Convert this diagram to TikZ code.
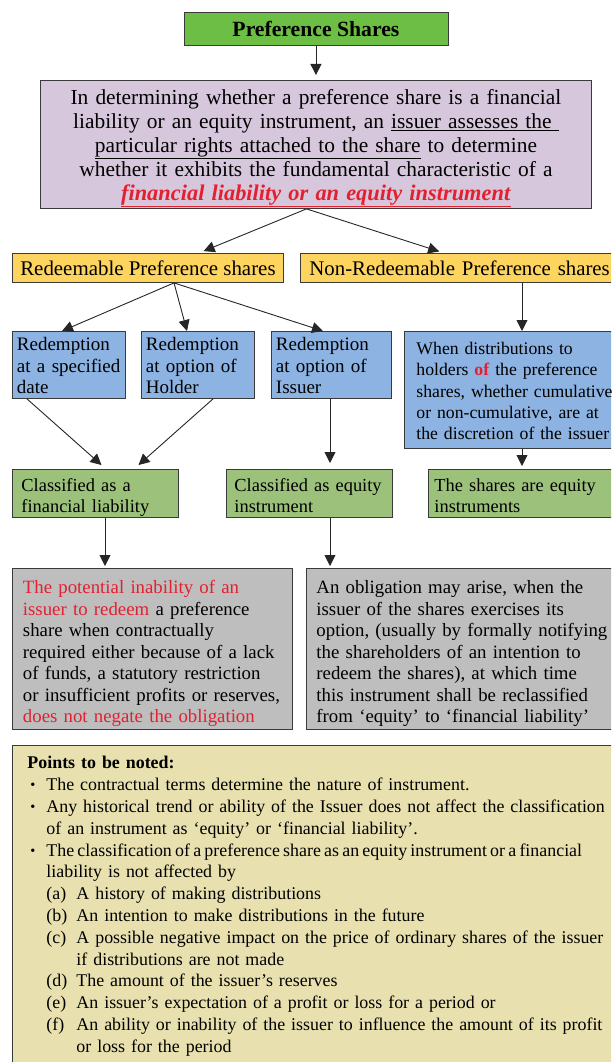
\documentclass[tikz,border=0pt]{standalone}
\usepackage{fontspec}
\setmainfont{Liberation Serif}
\usepackage{enumitem}
\usetikzlibrary{arrows.meta}
\definecolor{titlegreen}{HTML}{6DBE45}
\definecolor{qpurple}{HTML}{D7C7DC}
\definecolor{shyellow}{HTML}{FDD45E}
\definecolor{optblue}{HTML}{8DB3E2}
\definecolor{clgreen}{HTML}{9CC17B}
\definecolor{ngray}{HTML}{BEBEBE}
\definecolor{notekhaki}{HTML}{E8E0AE}
\definecolor{pred}{HTML}{E3202F}
\definecolor{edge}{HTML}{3A3A3A}
\newcommand{\boxlines}[2][0pt]{\raisebox{-#1}[\height][\depth]{\begin{tabular}{@{}l@{}}#2\end{tabular}}}
\begin{document}
\begin{tikzpicture}[x=1pt,y=-1pt,
	box/.style={draw=edge, line width=0.9pt, anchor=north west, inner ysep=0pt, align=left, font=\fontsize{19}{21.5}\selectfont},
	arr/.style={-{Triangle[length=11pt,width=11pt]}, line width=0.9pt, draw=black!85}]

	\clip (0,0) rectangle (611,1062);

	\node[box, fill=titlegreen, minimum width=264pt, minimum height=33pt, align=center, font=\fontsize{21.7}{24}\selectfont\bfseries] (title) at (183.5,12) {Preference Shares};
	\node[box, fill=qpurple, text width=531pt, inner xsep=10pt, minimum height=128pt, align=center, font=\fontsize{21.4}{23.8}\selectfont] (question) at (40,80) {\rule{0pt}{23pt}In determining whether a preference share is a financial\\ liability or an equity instrument, an \underline{issuer assesses the\ }\\ \underline{particular rights attached to the share} to determine\\ whether it exhibits the fundamental characteristic of a\\ {\fontsize{22.4}{23.8}\selectfont\textcolor{pred}{\underline{\textbf{\textit{financial liability or an equity instrument}}}}}};

	\node[box, fill=shyellow, minimum width=271pt, minimum height=29pt, align=center, font=\fontsize{20.9}{23}\selectfont] (redeem) at (12,253) {Redeemable Preference shares};
	\node[box, fill=shyellow, text width=312pt, inner xsep=9pt, minimum height=29pt, font=\fontsize{20.8}{23}\selectfont] (nonredeem) at (300,253) {Non-Redeemable Preference shares};

	\node[box, fill=optblue, text width=104pt, inner xsep=4.5pt, minimum height=67pt] (specdate) at (12,331) {\boxlines[3pt]{Redemption\\ at a specified\\ date}};
	\node[box, fill=optblue, text width=104pt, inner xsep=4.5pt, minimum height=67pt] (holder) at (141,331) {\boxlines[3pt]{Redemption\\ at option of\\ Holder}};
	\node[box, fill=optblue, text width=111pt, inner xsep=4.5pt, minimum height=67pt] (issuer) at (271,331) {\boxlines[3pt]{Redemption\\ at option of\\ Issuer}};
	\node[box, fill=optblue, text width=206pt, inner xsep=12pt, minimum height=117pt, font=\fontsize{17.7}{21.3}\selectfont] (discretion) at (404,331) {\boxlines[3pt]{When distributions to\\ holders \textcolor{pred}{\textbf{of}} the preference\\ shares, whether cumulative\\ or non-cumulative, are at\\ the discretion of the issuer}};

	\node[box, fill=clgreen, text width=148pt, inner xsep=9pt, minimum height=48pt, font=\fontsize{18.4}{21}\selectfont] (liability) at (12,469) {\boxlines[4pt]{Classified as a\\ financial liability}};
	\node[box, fill=clgreen, text width=150pt, inner xsep=8pt, minimum height=48pt, font=\fontsize{18.4}{21}\selectfont] (equity) at (226,469) {\boxlines[4pt]{Classified as equity\\ instrument}};
	\node[box, fill=clgreen, text width=200pt, inner xsep=6pt, minimum height=48pt, font=\fontsize{18.4}{21}\selectfont] (equityshares) at (428,469) {\boxlines[4pt]{The shares are equity\\ instruments}};

	\node[box, fill=ngray, text width=259pt, inner xsep=10.5pt, minimum height=161pt, font=\fontsize{18.8}{21.5}\selectfont] (noteliab) at (12,568) {\boxlines[5pt]{\textcolor{pred}{The potential inability of an}\\ \textcolor{pred}{issuer to redeem} a preference\\ share when contractually\\ required either because of a lack\\ of funds, a statutory restriction\\ or insufficient profits or reserves,\\ \textcolor{pred}{does not negate the obligation}}};
	\node[box, fill=ngray, text width=300pt, inner xsep=10pt, minimum height=161pt, font=\fontsize{18.8}{21.5}\selectfont] (noteequity) at (306,568) {\boxlines[5pt]{An obligation may arise, when the\\ issuer of the shares exercises its\\ option, (usually by formally notifying\\ the shareholders of an intention to\\ redeem the shares), at which time\\ this instrument shall be reclassified\\ from ‘equity’ to ‘financial liability’}};

	\node[box, fill=notekhaki, text width=640pt, inner xsep=15pt, inner ysep=11pt, font=\fontsize{17.9}{21.8}\selectfont] (notes) at (12,745) {\textbf{Points to be noted:}
	\begin{itemize}[nosep, leftmargin=19pt, labelindent=3pt, labelwidth=7pt, labelsep=9pt, align=left, label=\raisebox{0.05em}{\scalebox{0.8}{\textbullet}}]
		\item The contractual terms determine the nature of instrument.
		\item Any historical trend or ability of the Issuer does not affect the classification\\ of an instrument as ‘equity’ or ‘financial liability’.
		\item {\spaceskip=0.18em\relax The classification of a preference share as an equity instrument or a financial}\\ liability is not affected by
		\begin{enumerate}[nosep, leftmargin=30pt, labelindent=0pt, labelwidth=22pt, labelsep=8pt, align=left, label=(\alph*)]
			\item A history of making distributions
			\item An intention to make distributions in the future
			\item A possible negative impact on the price of ordinary shares of the issuer\\ if distributions are not made
			\item The amount of the issuer's reserves
			\item An issuer's expectation of a profit or loss for a period or
			\item An ability or inability of the issuer to influence the amount of its profit\\ or loss for the period
		\end{enumerate}
	\end{itemize}};

	\draw[arr, shorten >=5pt] (title.south) -- (question.north);
	\draw[arr, shorten >=5pt] ([xshift=-9.5pt]question.south) -- ([xshift=187pt]redeem.north west);
	\draw[arr, shorten >=5pt] ([xshift=-9.5pt]question.south) -- ([xshift=144pt]nonredeem.north west);
	\draw[arr] ([xshift=162pt]redeem.south west) -- ([xshift=50pt]specdate.north west);
	\draw[arr] ([xshift=162pt]redeem.south west) -- ([xshift=46pt]holder.north west);
	\draw[arr] ([xshift=162pt]redeem.south west) -- ([xshift=52pt]issuer.north west);
	\draw[arr] ([xshift=222pt]nonredeem.south west) -- ([xshift=118pt]discretion.north west);
	\draw[arr, shorten >=6pt] ([xshift=15pt]specdate.south west) -- ([xshift=94pt]liability.north west);
	\draw[arr, shorten >=6pt] ([xshift=72pt]holder.south west) -- ([xshift=122pt]liability.north west);
	\draw[arr, shorten >=6pt] ([xshift=59pt]issuer.south west) -- ([xshift=104pt]equity.north west);
	\draw[arr, shorten >=3pt] ([xshift=118pt]discretion.south west) -- ([xshift=94pt]equityshares.north west);
	\draw[arr, shorten >=2pt] ([xshift=93pt]liability.south west) -- ([xshift=93pt]noteliab.north west);
	\draw[arr, shorten >=2pt] ([xshift=104pt]equity.south west) -- ([xshift=24pt]noteequity.north west);

\end{tikzpicture}
\end{document}
